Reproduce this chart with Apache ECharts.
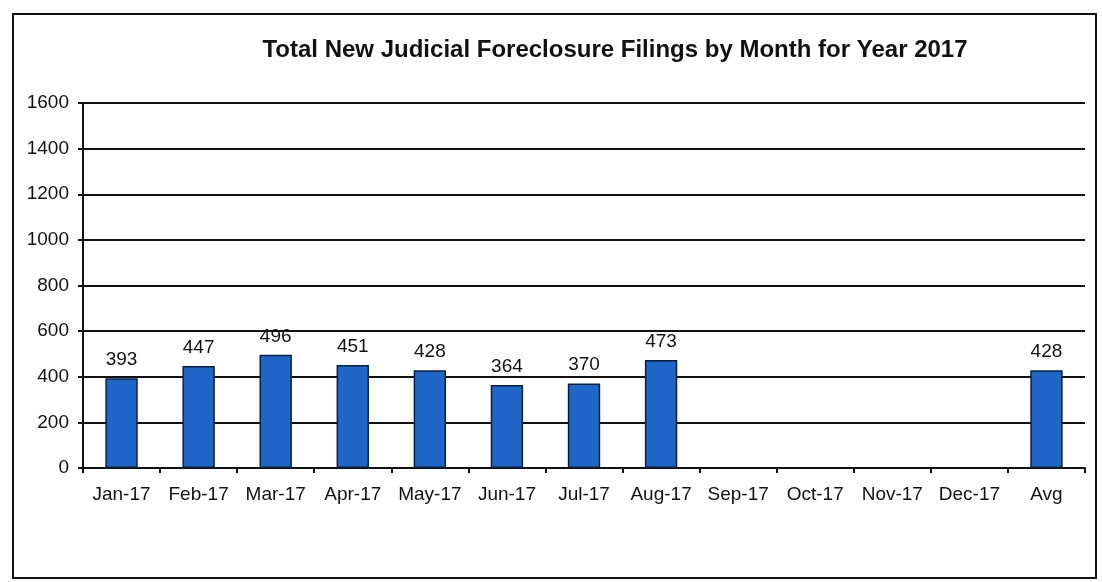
<!DOCTYPE html>
<html><head><meta charset="utf-8">
<script src="https://cdn.jsdelivr.net/npm/echarts@6/dist/echarts.min.js"></script>
<style>html,body{margin:0;padding:0;background:#fff}#c{width:1102px;height:582px}</style>
</head><body><div id="c"></div>
<script>
const categories = ['Jan-17','Feb-17','Mar-17','Apr-17','May-17','Jun-17','Jul-17','Aug-17','Sep-17','Oct-17','Nov-17','Dec-17','Avg'];
const filings = [393, 447, 496, 451, 428, 364, 370, 473, null, null, null, null, 428];
const titleText = 'Total New Judicial Foreclosure Filings by Month for Year 2017';

const chart = echarts.init(document.getElementById('c'));
chart.setOption({
  backgroundColor: '#fff',
  animation: false,
  textStyle: { fontFamily: 'Liberation Sans, Arial, sans-serif' },
  title: {
    text: titleText, left: 610, top: 33, textAlign: 'center',
    textStyle: { fontSize: 24, fontWeight: 'bold', color: '#111', fontFamily: 'Liberation Sans, Arial, sans-serif' }
  },
  graphic: [{
    type: 'rect', shape: { x: 13, y: 14, width: 1083, height: 564 },
    style: { fill: 'none', stroke: '#111', lineWidth: 2 }, silent: true, z: 0
  }],
  grid: { left: 83, right: 17, top: 103, bottom: 114, containLabel: false },
  xAxis: {
    type: 'category', data: categories,
    axisLine: { lineStyle: { color: '#111', width: 2 } },
    axisTick: { show: true, interval: 0, length: 5, lineStyle: { color: '#111', width: 2 } },
    axisLabel: { color: '#111', fontSize: 19, margin: 17, interval: 0 },
    splitLine: { show: false }
  },
  yAxis: {
    type: 'value', min: 0, max: 1600, interval: 200,
    axisLine: { show: true, lineStyle: { color: '#111', width: 2 } },
    axisTick: { show: true, length: 5, lineStyle: { color: '#111', width: 2 } },
    axisLabel: { color: '#111', fontSize: 19, margin: 14, formatter: v => String(v) },
    splitLine: { lineStyle: { color: '#111', width: 2 } }
  },
  series: [{
    type: 'bar', data: filings, barWidth: '42%',
    itemStyle: { color: '#1f66c9', borderColor: '#0a1f44', borderWidth: 1.5 },
    label: { show: true, position: 'top', distance: 9, color: '#111', fontSize: 19 }
  }]
});
</script></body></html>
